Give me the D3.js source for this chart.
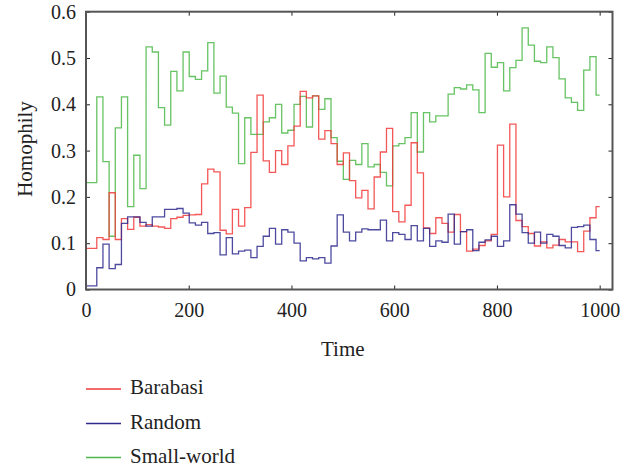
<!DOCTYPE html>
<html>
<head>
<meta charset="utf-8">
<script src="https://cdn.jsdelivr.net/npm/d3@7"></script>
<style>
  html, body { margin: 0; padding: 0; background: #fff; }
  svg { display: block; }
  text { font-family: "Liberation Serif", "Times New Roman", serif; fill: #222; }
</style>
</head>
<body>
<svg id="chart" width="634" height="468"></svg>
<script>
// ---- Data ----
const time = [0, 21, 33, 45, 57, 69, 81, 93, 105, 117, 129, 141, 153, 165, 177, 189, 201, 213, 225, 237,
  249, 261, 273, 285, 297, 309, 321, 333, 345, 357, 369, 381, 393, 405, 417, 429, 441, 453, 465, 477,
  489, 501, 513, 525, 537, 549, 561, 573, 585, 597, 609, 621, 633, 645, 657, 669, 681, 693, 705, 717,
  729, 741, 753, 765, 777, 789, 801, 813, 825, 837, 849, 861, 873, 885, 897, 909, 921, 933, 945, 957,
  969, 981, 993];
const endTime = 1000;

const barabasi = [0.089, 0.112, 0.108, 0.209, 0.108, 0.153, 0.130, 0.156, 0.137, 0.140,
  0.137, 0.135, 0.132, 0.153, 0.156, 0.160, 0.161, 0.162, 0.228, 0.260,
  0.254, 0.128, 0.120, 0.173, 0.137, 0.177, 0.296, 0.420, 0.278, 0.253,
  0.300, 0.270, 0.310, 0.353, 0.428, 0.414, 0.418, 0.325, 0.343, 0.315,
  0.270, 0.295, 0.235, 0.198, 0.214, 0.174, 0.243, 0.297, 0.348, 0.168,
  0.146, 0.182, 0.317, 0.252, 0.133, 0.121, 0.155, 0.143, 0.124, 0.162,
  0.125, 0.083, 0.087, 0.095, 0.105, 0.119, 0.312, 0.200, 0.357, 0.149,
  0.136, 0.121, 0.094, 0.103, 0.090, 0.096, 0.108, 0.103, 0.103, 0.082,
  0.126, 0.155, 0.179];

const random = [0.008, 0.047, 0.098, 0.045, 0.054, 0.143, 0.157, 0.157, 0.145, 0.137,
  0.157, 0.157, 0.173, 0.173, 0.175, 0.165, 0.144, 0.139, 0.145, 0.121,
  0.123, 0.075, 0.112, 0.077, 0.083, 0.085, 0.069, 0.093, 0.115, 0.132,
  0.098, 0.129, 0.124, 0.100, 0.062, 0.069, 0.066, 0.069, 0.057, 0.094,
  0.161, 0.124, 0.105, 0.124, 0.131, 0.129, 0.129, 0.150, 0.105, 0.123,
  0.119, 0.108, 0.138, 0.105, 0.132, 0.093, 0.105, 0.102, 0.163, 0.098,
  0.125, 0.129, 0.084, 0.102, 0.107, 0.115, 0.093, 0.105, 0.183, 0.163,
  0.123, 0.100, 0.124, 0.100, 0.119, 0.115, 0.095, 0.090, 0.134, 0.136,
  0.139, 0.108, 0.084];

const smallWorld = [0.231, 0.416, 0.276, 0.115, 0.349, 0.416, 0.179, 0.290, 0.218, 0.524,
  0.513, 0.393, 0.355, 0.471, 0.429, 0.513, 0.460, 0.454, 0.472, 0.533,
  0.424, 0.461, 0.394, 0.381, 0.272, 0.371, 0.335, 0.335, 0.362, 0.371,
  0.400, 0.338, 0.344, 0.400, 0.417, 0.351, 0.418, 0.389, 0.412, 0.328,
  0.277, 0.238, 0.279, 0.270, 0.315, 0.265, 0.270, 0.253, 0.224, 0.310,
  0.315, 0.328, 0.382, 0.297, 0.382, 0.362, 0.375, 0.375, 0.422, 0.436,
  0.433, 0.442, 0.431, 0.382, 0.510, 0.480, 0.490, 0.429, 0.479, 0.495,
  0.565, 0.528, 0.493, 0.490, 0.524, 0.501, 0.455, 0.414, 0.404, 0.387,
  0.474, 0.503, 0.420];

const seriesNames = ["Barabasi", "Random", "Small-world"];
const seriesColors = ["#f23a3a", "#2e2a8e", "#4cb848"];
const xTicks = [0, 200, 400, 600, 800, 1000];
const yTicks = [0, 0.1, 0.2, 0.3, 0.4, 0.5, 0.6];
const yTickLabels = ["0", "0.1", "0.2", "0.3", "0.4", "0.5", "0.6"];

// ---- Layout ----
const svg = d3.select("#chart");
const mLeft = 86, mRight = 612.5, mTop = 11.7, mBottom = 289.5;

const x = d3.scaleLinear().domain([0, 1025]).range([mLeft, mRight]);
const y = d3.scaleLinear().domain([0, 0.6]).range([mBottom, mTop]);

const seriesValues = [barabasi, random, smallWorld];
const series = seriesNames.map((name, i) => {
  const vals = seriesValues[i];
  const pts = time.map((t, j) => ({ t, v: vals[j] }));
  pts.push({ t: endTime, v: vals[vals.length - 1] });
  return { name, color: seriesColors[i], pts };
});

const line = d3.line().curve(d3.curveStepAfter).x(d => x(d.t)).y(d => y(d.v));

// draw order: green, red, blue
const drawOrder = [2, 0, 1];
svg.append("g").selectAll("path")
  .data(drawOrder.map(i => series[i]))
  .join("path")
  .attr("d", d => line(d.pts))
  .attr("fill", "none")
  .attr("stroke", d => d.color)
  .attr("stroke-width", 1.3)
  .attr("stroke-opacity", 0.85);

// ---- Axes ----
const fontSize = 20;
const titleSize = 21;
const axB = svg.append("g").attr("transform", `translate(0,${mBottom})`)
  .call(d3.axisBottom(x).tickValues(xTicks).tickSize(-4).tickPadding(13).tickFormat(d3.format("d")));
const axL = svg.append("g").attr("transform", `translate(${mLeft},0)`)
  .call(d3.axisLeft(y).tickValues(yTicks).tickSize(-4).tickPadding(10).tickFormat((d, i) => yTickLabels[i]));
const axT = svg.append("g").attr("transform", `translate(0,${mTop})`)
  .call(d3.axisTop(x).tickValues(xTicks).tickSize(-4).tickFormat(""));
const axR = svg.append("g").attr("transform", `translate(${mRight},0)`)
  .call(d3.axisRight(y).tickValues(yTicks).tickSize(-4).tickFormat(""));

[axB, axL, axT, axR].forEach(g => {
  g.select(".domain").remove();
  g.selectAll(".tick line").attr("stroke", "#222").attr("stroke-width", 1);
  g.selectAll(".tick text").attr("font-family", "Liberation Serif, serif")
    .attr("font-size", fontSize).attr("fill", "#222");
});

// frame
svg.append("rect")
  .attr("x", mLeft).attr("y", mTop)
  .attr("width", mRight - mLeft).attr("height", mBottom - mTop)
  .attr("fill", "none").attr("stroke", "#555").attr("stroke-width", 2);

// axis titles
svg.append("text")
  .attr("x", (x(0) + x(1000)) / 2).attr("y", 356)
  .attr("text-anchor", "middle").attr("font-size", titleSize)
  .text("Time");
svg.append("text")
  .attr("transform", `translate(32,149) rotate(-90)`)
  .attr("text-anchor", "middle").attr("font-size", titleSize)
  .text("Homophily");

// legend
const legendY = [389, 423.5, 457.5];
const lg = svg.append("g").selectAll("g").data(series).join("g")
  .attr("transform", (d, i) => `translate(86,${legendY[i]})`);
lg.append("line").attr("x1", 0).attr("x2", 35).attr("y1", 0).attr("y2", 0)
  .attr("stroke", d => d.color).attr("stroke-width", 1.3);
lg.append("text").attr("x", 44).attr("y", 5).attr("font-size", titleSize)
  .text(d => d.name);
</script>
</body>
</html>
